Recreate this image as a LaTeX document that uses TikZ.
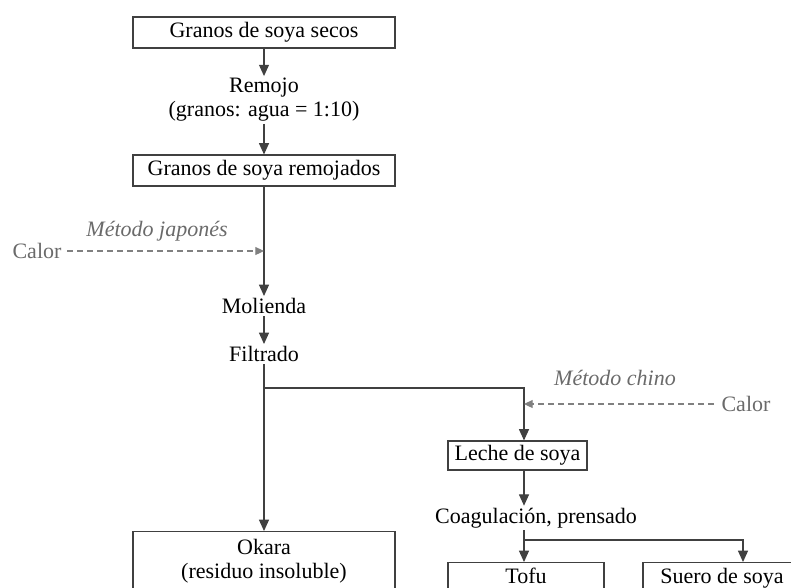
\documentclass[tikz,border=0pt]{standalone}
\usepackage{fontspec}
\setmainfont{Liberation Serif}
\usetikzlibrary{arrows.meta}
\definecolor{ln}{HTML}{404040}
\definecolor{gr}{HTML}{808080}
\definecolor{gt}{HTML}{6A6A6A}
\begin{document}
\begin{tikzpicture}[x=0.75pt,y=-0.75pt,
  font=\fontsize{16.5}{18}\selectfont,
  box/.style={draw=ln, line width=0.8pt, inner sep=0pt, align=center},
  lbl/.style={inner sep=1.5pt, align=center},
  arr/.style={draw=ln, line width=0.9pt, -{Triangle[length=8.5pt,width=7.5pt]}},
  heat/.style={draw=gr, line width=0.8pt, dash pattern=on 4.5pt off 3pt, -{Triangle[length=6.5pt,width=6pt]}},
  plain/.style={draw=ln, line width=0.9pt}]
\useasboundingbox (0,0) rectangle (791,587);
\clip (0,0) rectangle (791,587);

\node[box, minimum width=196.5pt, minimum height=23.25pt] (b1) at (264,32.5) {Granos de soya secos};
\node[lbl] (rem) at (264,100) {Remojo\\(granos: agua = 1:10)};
\node[box, minimum width=196.5pt, minimum height=23.25pt] (b2) at (264,170.5) {Granos de soya remojados};
\node[lbl] (mol) at (264,306) {Molienda};
\node[lbl] (fil) at (264,354) {Filtrado};
\node[lbl, text=gt, outer sep=3pt] (calL) at (37,251) {Calor};
\node[lbl, text=gt, font=\fontsize{16.5}{18}\selectfont\itshape] (mj) at (157,231) {Método japonés};
\node[lbl, text=gt, font=\fontsize{16.5}{18}\selectfont\itshape] (mc) at (615,378) {Método chino};
\node[lbl, text=gt, outer sep=4pt] (calR) at (746,404) {Calor};
\node[box, minimum width=104.25pt, minimum height=21.75pt] (leche) at (517.5,455.5) {Leche de soya};
\node[lbl] (coag) at (536,518) {Coagulación, prensado};
\node[box, anchor=north, minimum width=196.5pt, minimum height=60pt, inner ysep=5.5pt, text depth=30pt] (okara) at (264,531) {Okara\\(residuo insoluble)};
\node[box, anchor=north, minimum width=117pt, minimum height=40pt, inner ysep=4pt, text depth=20pt] (tofu) at (526,562) {Tofu};
\node[box, anchor=north, minimum width=118.5pt, minimum height=40pt, inner ysep=4pt, text depth=20pt] (suero) at (722,562) {Suero de soya};

\coordinate (fb) at (264,388);
\coordinate (lc) at (524,388);
\coordinate (cb) at (524,540);
\coordinate (sb) at (743,540);

\draw[arr] (b1) -- (rem);
\draw[arr] (rem) -- (b2);
\draw[arr] (b2) -- (mol);
\draw[heat] (calL) -- (calL -| b2.south);
\draw[arr] (mol) -- (fil);
\draw[arr] (fil) -- (fil |- okara.north);
\draw[arr] (fb) -| (lc |- leche.north);
\draw[heat] (calR) -- (calR -| lc);
\draw[arr] (lc |- leche.south) -- (lc |- coag.north);
\draw[plain] (lc |- coag.south) -- (cb);
\draw[arr] (cb) -- (cb |- tofu.north);
\draw[arr] (cb) -| (sb |- suero.north);
\end{tikzpicture}
\end{document}
